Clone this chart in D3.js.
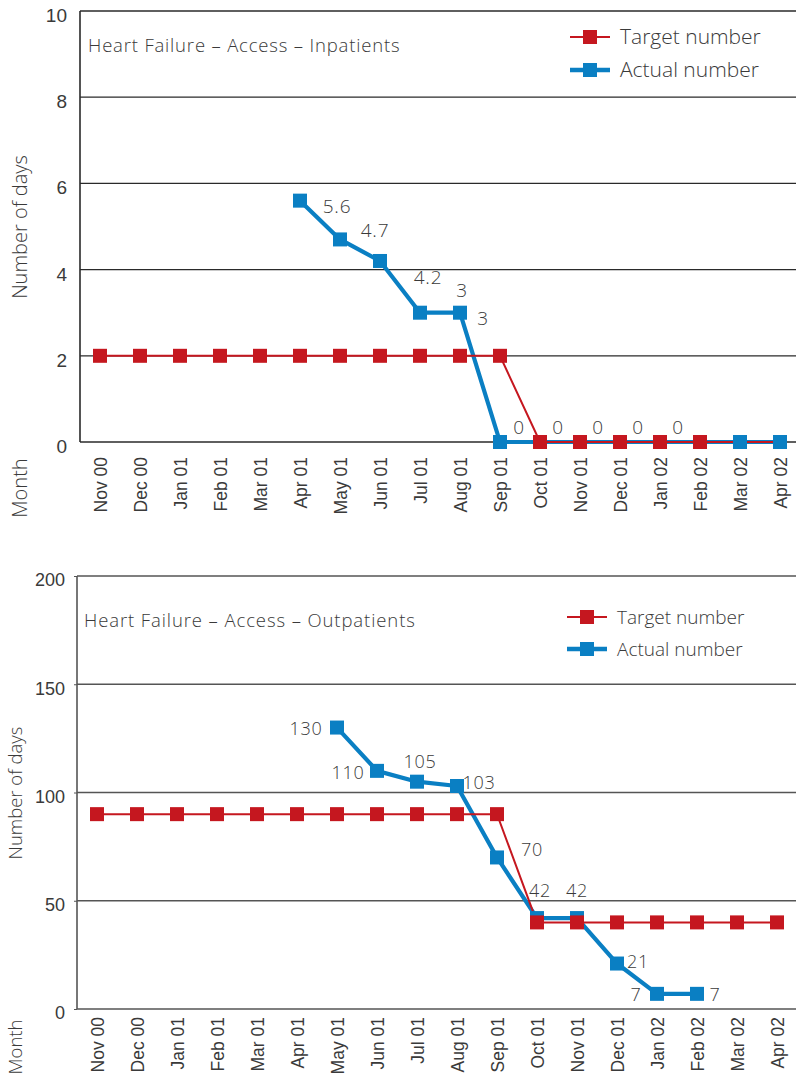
<!DOCTYPE html>
<html>
<head>
<meta charset="utf-8">
<script src="https://cdn.jsdelivr.net/npm/d3@7"></script>
<style>
  html, body { margin: 0; padding: 0; background: #fff; }
  svg { display: block; font-family: "Open Sans", "Noto Sans", sans-serif; }
  text { fill: #3a3a3a; font-weight: 300; }
</style>
</head>
<body>
<svg id="chart" width="796" height="1081"></svg>
<script>
// Month categories shared by both panels
const months = ["Nov 00", "Dec 00", "Jan 01", "Feb 01", "Mar 01", "Apr 01", "May 01", "Jun 01",
  "Jul 01", "Aug 01", "Sep 01", "Oct 01", "Nov 01", "Dec 01", "Jan 02", "Feb 02", "Mar 02", "Apr 02"];

// Inpatients (number of days)
const inpatientTarget = [2, 2, 2, 2, 2, 2, 2, 2, 2, 2, 2, 0, 0, 0, 0, 0, 0, 0];
const inpatientActual = [null, null, null, null, null, 5.6, 4.7, 4.2, 3, 3, 0, 0, 0, 0, 0, 0, 0, 0];
const inpatientLabelled = ["Apr 01", "May 01", "Jun 01", "Jul 01", "Aug 01", "Sep 01", "Oct 01", "Nov 01", "Dec 01", "Jan 02"];
const inpatientTicks = [0, 2, 4, 6, 8, 10];

// Outpatients (number of days)
const outpatientTarget = [90, 90, 90, 90, 90, 90, 90, 90, 90, 90, 90, 40, 40, 40, 40, 40, 40, 40];
const outpatientActual = [null, null, null, null, null, null, 130, 110, 105, 103, 70, 42, 42, 21, 7, 7, null, null];
const outpatientLabelled = ["May 01", "Jun 01", "Jul 01", "Aug 01", "Sep 01", "Oct 01", "Nov 01", "Dec 01", "Jan 02", "Feb 02"];
const outpatientTicks = [0, 50, 100, 150, 200];

// Label placement (offset of each value label from its marker)
const inpatientLabelOffsets = [[37, 6], [35, -9], [48, 16], [42, -23], [23, 5], [19, -15], [18, -15], [18, -15], [18, -15], [18, -15]];
const outpatientLabelOffsets = [[-31, 1], [-29, 2], [3, -20], [22, -3], [35, -8], [3, -28], [0, -28], [21, -2], [-21, 1], [18, 1]];

const RED = "#c5171f";
const BLUE = "#0a7fc3";

const svg = d3.select("#chart");

function drawPanel(cfg) {
  const g = svg.append("g");
  const x = d3.scalePoint().domain(months).range([cfg.left, cfg.left + 720]).padding(0.5);
  const y = d3.scaleLinear().domain(cfg.domain).range([cfg.bottom, cfg.top]);

  // horizontal grid lines (top one doubles as the frame)
  g.append("g").selectAll("line").data(cfg.ticks.filter(t => t > 0)).join("line")
    .attr("x1", cfg.left).attr("x2", 800)
    .attr("y1", d => y(d)).attr("y2", d => y(d))
    .attr("stroke", cfg.gridColor).attr("stroke-width", 1.3);

  // y axis labels
  const yAxis = d3.axisLeft(y).tickValues(cfg.ticks).tickSize(cfg.tickLen).tickPadding(cfg.tickPad)
    .tickFormat(d3.format("d"));
  const ya = g.append("g").attr("transform", `translate(${cfg.left},0)`).call(yAxis);
  ya.select(".domain").remove();
  ya.selectAll(".tick line").attr("stroke", cfg.gridColor);
  ya.selectAll("text").attr("font-size", cfg.axisFont).attr("dy", "0.55em")
    .attr("font-family", null).style("fill", "#3a3a3a");

  // x axis labels (rotated)
  const xAxis = d3.axisBottom(x).tickSize(0).tickPadding(0);
  const xa = g.append("g").attr("transform", `translate(0,${cfg.bottom})`).call(xAxis);
  xa.select(".domain").remove();
  xa.selectAll("text")
    .attr("font-size", cfg.monthFont).attr("font-family", null)
    .attr("text-anchor", "end")
    .attr("transform", `translate(0,${cfg.monthGap}) rotate(-90)`)
    .attr("x", 0).attr("y", 0).attr("dy", "0.36em").style("fill", "#3a3a3a");

  // frame: left axis and baseline
  g.append("line").attr("x1", cfg.left).attr("x2", cfg.left)
    .attr("y1", cfg.top).attr("y2", cfg.bottom)
    .attr("stroke", cfg.gridColor).attr("stroke-width", 1.6);
  g.append("line").attr("x1", cfg.left).attr("x2", 800)
    .attr("y1", cfg.bottom).attr("y2", cfg.bottom)
    .attr("stroke", cfg.gridColor).attr("stroke-width", 1.6);

  // axis titles
  g.append("text").text("Number of days")
    .attr("transform", `translate(${cfg.yTitleX},${cfg.yTitleY}) rotate(-90)`)
    .attr("text-anchor", "middle").attr("dy", "0.35em").attr("font-size", cfg.titleFont);
  g.append("text").text("Month")
    .attr("transform", `translate(${cfg.yTitleX},${cfg.monthTitleY}) rotate(-90)`)
    .attr("text-anchor", "middle").attr("dy", "0.35em").attr("font-size", cfg.titleFont);

  // chart title
  g.append("text").text(cfg.title).attr("x", cfg.titleX).attr("y", cfg.titleY)
    .attr("dy", "0.35em").attr("font-size", cfg.headFont).attr("letter-spacing", cfg.headSpacing);

  const pts = (vals) => months.map((m, i) => ({ m, v: vals[i] })).filter(d => d.v !== null);
  const line = d3.line().x(d => x(d.m)).y(d => y(d.v));
  const actual = pts(cfg.actual);
  const target = pts(cfg.target);
  const ms = 14;

  g.append("path").datum(actual).attr("d", line).attr("fill", "none")
    .attr("stroke", BLUE).attr("stroke-width", 4.2).attr("stroke-linejoin", "round");
  g.append("path").datum(target).attr("d", line).attr("fill", "none")
    .attr("stroke", RED).attr("stroke-width", 2);

  const blueMarks = cfg.blueOnTop ? actual.filter(cfg.blueOnTop) : [];
  g.append("g").selectAll("rect").data(actual).join("rect")
    .attr("x", d => x(d.m) - ms / 2).attr("y", d => y(d.v) - ms / 2)
    .attr("width", ms).attr("height", ms).attr("fill", BLUE);
  g.append("g").selectAll("rect").data(target).join("rect")
    .attr("x", d => x(d.m) - ms / 2).attr("y", d => y(d.v) - ms / 2)
    .attr("width", ms).attr("height", ms).attr("fill", RED);
  g.append("g").selectAll("rect").data(blueMarks).join("rect")
    .attr("x", d => x(d.m) - ms / 2).attr("y", d => y(d.v) - ms / 2)
    .attr("width", ms).attr("height", ms).attr("fill", BLUE);

  // value labels
  const labelled = cfg.labelled.map((m, i) => ({ m, v: cfg.actual[months.indexOf(m)], off: cfg.offsets[i] }));
  g.append("g").selectAll("text").data(labelled).join("text")
    .attr("x", d => x(d.m) + d.off[0]).attr("y", d => y(d.v) + d.off[1])
    .attr("text-anchor", "middle").attr("dy", "0.36em")
    .attr("font-size", cfg.valueFont).attr("letter-spacing", 0.8).text(d => String(d.v));

  // legend
  const lg = g.append("g");
  [["Target number", RED, 2, cfg.legendY[0]], ["Actual number", BLUE, 4.6, cfg.legendY[1]]].forEach(([name, c, w, ly]) => {
    lg.append("line").attr("x1", cfg.legendX).attr("x2", cfg.legendX + 40)
      .attr("y1", ly).attr("y2", ly).attr("stroke", c).attr("stroke-width", w);
    lg.append("rect").attr("x", cfg.legendX + 20 - ms / 2).attr("y", ly - ms / 2)
      .attr("width", ms).attr("height", ms).attr("fill", c);
    lg.append("text").text(name).attr("x", cfg.legendX + 50).attr("y", ly)
      .attr("dy", "0.35em").attr("font-size", cfg.legendFont);
  });
}

drawPanel({
  title: "Heart Failure \u2013 Access \u2013 Inpatients",
  left: 80, top: 11, bottom: 442, domain: [0, 10], ticks: inpatientTicks,
  target: inpatientTarget, actual: inpatientActual,
  labelled: inpatientLabelled, offsets: inpatientLabelOffsets,
  blueOnTop: d => months.indexOf(d.m) >= months.indexOf("Mar 02"),
  gridColor: "#2a2a2a", tickLen: 0, tickPad: 13, axisFont: 19, monthFont: 17.5, monthGap: 15,
  titleFont: 20, headFont: 18.5, headSpacing: 0.82, valueFont: 19, legendFont: 21,
  yTitleX: 20, yTitleY: 227, monthTitleY: 488,
  titleX: 88, titleY: 46, legendX: 570, legendY: [37, 70]
});

drawPanel({
  title: "Heart Failure \u2013 Access \u2013 Outpatients",
  left: 77, top: 576, bottom: 1009, domain: [0, 200], ticks: outpatientTicks,
  target: outpatientTarget, actual: outpatientActual,
  labelled: outpatientLabelled, offsets: outpatientLabelOffsets,
  blueOnTop: null,
  gridColor: "#555", tickLen: 3, tickPad: 9, axisFont: 18, monthFont: 17.5, monthGap: 8,
  titleFont: 18.5, headFont: 18.5, headSpacing: 0.9, valueFont: 18, legendFont: 19,
  yTitleX: 16, yTitleY: 793, monthTitleY: 1047,
  titleX: 84, titleY: 621, legendX: 567, legendY: [617, 649]
});
</script>
</body>
</html>
